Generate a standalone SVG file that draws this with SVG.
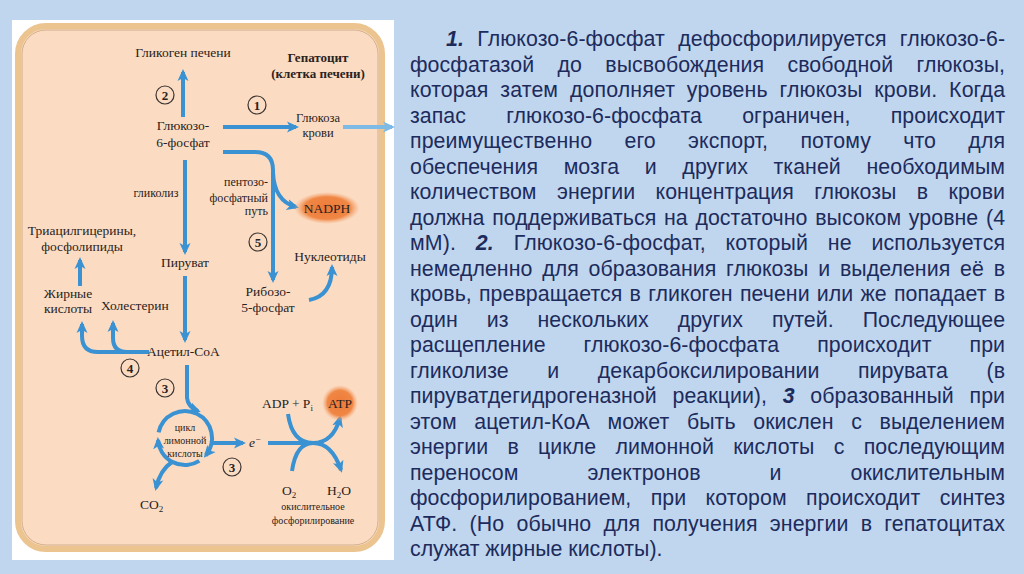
<svg xmlns="http://www.w3.org/2000/svg" width="1024" height="574" viewBox="0 0 1024 574">
<defs>
<style>
.p{font-family:"Liberation Sans",Arial,sans-serif;font-size:21.33px;fill:#1d2b5c}
.b{font-weight:bold;font-style:italic}
.l{font-family:"Liberation Serif","Times New Roman",serif;font-size:13.5px;fill:#2a2220}
.s{font-family:"Liberation Serif","Times New Roman",serif;font-size:12px;fill:#2a2220}
.t{font-family:"Liberation Serif","Times New Roman",serif;font-size:10px;fill:#2a2220}
.h{font-family:"Liberation Serif","Times New Roman",serif;font-size:13px;font-weight:bold;fill:#2a2220}
.m{text-anchor:middle}
.e{text-anchor:end}
.c{fill:none;stroke:#3a3330;stroke-width:1.2}
.n{font-family:"Liberation Serif","Times New Roman",serif;font-size:13px;font-weight:bold;fill:#2a2220;text-anchor:middle}
.a{fill:none;stroke:#3a92d2;stroke-width:4;marker-end:url(#ah)}
.a0{fill:none;stroke:#3a92d2;stroke-width:4}
</style>
<marker id="ah" viewBox="0 0 12 12" refX="9" refY="6" markerWidth="12" markerHeight="12" markerUnits="userSpaceOnUse" orient="auto"><path d="M0,0.5 L12,6 L0,11.5 L3,6 z" fill="#3a92d2"/></marker>
<marker id="ahl" viewBox="0 0 12 12" refX="9" refY="6" markerWidth="12" markerHeight="12" markerUnits="userSpaceOnUse" orient="auto"><path d="M0,0.5 L12,6 L0,11.5 L3,6 z" fill="#7dbbe6"/></marker>
<radialGradient id="og" cx="50%" cy="50%" r="50%"><stop offset="0" stop-color="#ee7a38"/><stop offset="0.7" stop-color="#f08745"/><stop offset="1" stop-color="#f5a878" stop-opacity="0"/></radialGradient>
</defs>
<rect x="0" y="0" width="1024" height="574" fill="#bfd6ee"/>
<rect x="12" y="20" width="382" height="540" fill="#ffffff"/>
<g id="cell">
<rect x="18" y="26" width="364" height="523" rx="28" fill="#fbdcc3" stroke="#ecc490" stroke-width="6"/>
<rect x="22" y="30" width="356" height="515" rx="24" fill="none" stroke="#c9a27c" stroke-width="0.8"/>
</g>
<g id="connectors">
<path class="a" d="M183,117 L183,72"/>
<path class="a" d="M223,127 L296,127"/>
<path d="M343,127 L392,127" fill="none" stroke="#7dbbe6" stroke-width="4" marker-end="url(#ahl)"/>
<path class="a" d="M223,152 L255,152 Q273,152 273,170 L273,280"/>
<path class="a" d="M273,172 Q274,201 296,207"/>
<path class="a" d="M185,160 L185,252"/>
<path class="a" d="M185,276 L185,340"/>
<path class="a" d="M80,286 L80,260"/>
<path class="a" d="M149,352 L98,352 Q82,352 82,336 L82,324"/>
<path class="a" d="M140,352 L127,352 Q113,352 113,338 L113,323"/>
<path class="a" d="M309,300 Q332,296 332,267"/>
<path class="a" d="M187,365 L187,398 Q188,407 198,411"/>
<path class="a" d="M158.6,432.4 A27,27 0 1 1 205.7,455.4"/>
<path class="a" d="M199.3,460.9 A27,27 0 0 1 158,440"/>
<path class="a" d="M212,443 L243,443"/>
<path class="a" d="M172,462 Q160,470 156,488"/>
<path class="a0" d="M268,443 L313,443"/>
<path class="a" d="M288,414 Q292,443 313,443 Q333,443 340,418"/>
<path class="a" d="M292,471 Q296,443 313,443 Q332,443 341,470"/>
</g>
<g id="glycogen"><text class="l m" x="183" y="57">Гликоген печени</text></g>
<g id="title"><text class="h m" x="318" y="62">Гепатоцит</text><text class="h m" x="318" y="78">(клетка печени)</text></g>
<g id="n2"><circle class="c" cx="165" cy="95" r="9"/><text class="n" x="165" y="99.5">2</text></g>
<g id="n1"><circle class="c" cx="257" cy="105" r="9"/><text class="n" x="257" y="109.5">1</text></g>
<g id="blood-glucose"><text class="l m" x="318" y="122" style="font-size:12.5px">Глюкоза</text><text class="l m" x="318" y="137" style="font-size:12.5px">крови</text></g>
<g id="g6p"><text class="l m" x="183" y="130">Глюкозо-</text><text class="l m" x="183" y="147">6-фосфат</text></g>
<g id="glycolysis"><text class="s m" x="156" y="197">гликолиз</text></g>
<g id="pentose"><text class="s e" x="268" y="186">пентозо-</text><text class="s e" x="268" y="202">фосфатный</text><text class="s e" x="268" y="215">путь</text></g>
<g id="nadph"><ellipse cx="327" cy="208" rx="33" ry="16" fill="url(#og)"/><text class="l m" x="327" y="213">NADPH</text></g>
<g id="tag"><text class="l m" x="82" y="235">Триацилгицерины,</text><text class="l m" x="82" y="251">фосфолипиды</text></g>
<g id="n5"><circle class="c" cx="258" cy="242" r="9"/><text class="n" x="258" y="246.5">5</text></g>
<g id="nucleotides"><text class="l m" x="330" y="261">Нуклеотиды</text></g>
<g id="pyruvate"><text class="l m" x="185" y="267">Пируват</text></g>
<g id="fatty-acids"><text class="l m" x="68" y="298">Жирные</text><text class="l m" x="68" y="313">кислоты</text></g>
<g id="cholesterol"><text class="l" x="101" y="310">Холестерин</text></g>
<g id="ribose"><text class="l m" x="268" y="296">Рибозо-</text><text class="l m" x="268" y="312">5-фосфат</text></g>
<g id="acetyl"><text class="l" x="147" y="356">Ацетил-CoA</text></g>
<g id="n4"><circle class="c" cx="130" cy="368" r="9"/><text class="n" x="130" y="372.5">4</text></g>
<g id="n3a"><circle class="c" cx="165" cy="388" r="9"/><text class="n" x="165" y="392.5">3</text></g>
<g id="tca"><text class="t m" x="185" y="431">цикл</text><text class="t m" x="185" y="444">лимонной</text><text class="t m" x="185" y="457">кислоты</text></g>
<g id="n3b"><circle class="c" cx="232" cy="467" r="9"/><text class="n" x="232" y="471.5">3</text></g>
<g id="electron"><text class="l" x="249" y="447" style="font-style:italic">e<tspan dy="-5" style="font-size:9px">−</tspan></text></g>
<g id="co2"><text class="l" x="140" y="509">CO<tspan dy="3" style="font-size:9px">2</tspan></text></g>
<g id="adp"><text class="l" x="262" y="408">ADP + P<tspan dy="3" style="font-size:9px">i</tspan></text></g>
<g id="atp"><circle cx="340" cy="403" r="18" fill="url(#og)"/><text class="l m" x="340" y="408">ATP</text></g>
<g id="o2"><text class="l" x="282" y="495">O<tspan dy="3" style="font-size:9px">2</tspan></text></g>
<g id="h2o"><text class="l" x="327" y="495">H<tspan dy="3" style="font-size:9px">2</tspan><tspan dy="-3">O</tspan></text></g>
<g id="oxphos"><text class="t m" x="313" y="510">окислительное</text><text class="t m" x="313" y="524">фосфорилирование</text></g>
<g id="paragraph">
<text class="p" x="446" y="46" word-spacing="7.3" textLength="559" lengthAdjust="spacing"><tspan class="b">1.</tspan> Глюкозо-6-фосфат дефосфорилируется глюкозо-6-</text>
<text class="p" x="410" y="71.5" word-spacing="17.4" textLength="595" lengthAdjust="spacing">фосфатазой до высвобождения свободной глюкозы,</text>
<text class="p" x="410" y="97" word-spacing="5.8" textLength="595" lengthAdjust="spacing">которая затем дополняет уровень глюкозы крови. Когда</text>
<text class="p" x="410" y="122.5" word-spacing="34.3" textLength="595" lengthAdjust="spacing">запас глюкозо-6-фосфата ограничен, происходит</text>
<text class="p" x="410" y="148" word-spacing="26.3" textLength="595" lengthAdjust="spacing">преимущественно его экспорт, потому что для</text>
<text class="p" x="410" y="173.5" word-spacing="19.6" textLength="595" lengthAdjust="spacing">обеспечения мозга и других тканей необходимым</text>
<text class="p" x="410" y="199" word-spacing="14.5" textLength="595" lengthAdjust="spacing">количеством энергии концентрация глюкозы в крови</text>
<text class="p" x="410" y="224.5" word-spacing="1.7" textLength="595" lengthAdjust="spacing">должна поддерживаться на достаточно высоком уровне (4</text>
<text class="p" x="410" y="250" word-spacing="13.7" textLength="595" lengthAdjust="spacing">мМ). <tspan class="b">2.</tspan> Глюкозо-6-фосфат, который не используется</text>
<text class="p" x="410" y="275.5" word-spacing="3.8" textLength="595" lengthAdjust="spacing">немедленно для образования глюкозы и выделения её в</text>
<text class="p" x="410" y="301" word-spacing="1.2" textLength="595" lengthAdjust="spacing">кровь, превращается в гликоген печени или же попадает в</text>
<text class="p" x="410" y="326.5" word-spacing="23" textLength="595" lengthAdjust="spacing">один из нескольких других путей. Последующее</text>
<text class="p" x="410" y="352" word-spacing="32" textLength="595" lengthAdjust="spacing">расщепление глюкозо-6-фосфата происходит при</text>
<text class="p" x="410" y="377.5" word-spacing="32.6" textLength="595" lengthAdjust="spacing">гликолизе и декарбоксилировании пирувата (в</text>
<text class="p" x="410" y="403" word-spacing="9.7" textLength="595" lengthAdjust="spacing">пируватдегидрогеназной реакции), <tspan class="b">3</tspan> образованный при</text>
<text class="p" x="410" y="428.5" word-spacing="11.6" textLength="595" lengthAdjust="spacing">этом ацетил-КоА может быть окислен с выделением</text>
<text class="p" x="410" y="454" word-spacing="13.4" textLength="595" lengthAdjust="spacing">энергии в цикле лимонной кислоты с последующим</text>
<text class="p" x="410" y="479.5" word-spacing="63.1" textLength="595" lengthAdjust="spacing">переносом электронов и окислительным</text>
<text class="p" x="410" y="505" word-spacing="13.4" textLength="595" lengthAdjust="spacing">фосфорилированием, при котором происходит синтез</text>
<text class="p" x="410" y="530.5" word-spacing="6.2" textLength="595" lengthAdjust="spacing">АТФ. (Но обычно для получения энергии в гепатоцитах</text>
<text class="p" x="410" y="556">служат жирные кислоты).</text>
</g>
</svg>
